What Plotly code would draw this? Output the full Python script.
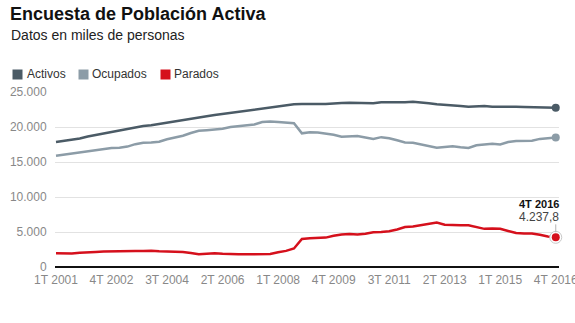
import plotly.graph_objects as go

# ---------------- data (miles de personas) ----------------
years = list(range(2001, 2017))
quarters = [f"{q}T {y}" for y in years for q in (1, 2, 3, 4)]

activos = [
    17860, 18000, 18150, 18350, 18650, 18900, 19150, 19300,
    19500, 19700, 20000, 20150, 20250, 20450, 20650, 20800,
    21000, 21200, 21350, 21550, 21700, 21850, 22000, 22150,
    22300, 22450, 22650, 22800, 22950, 23150, 23250, 23300,
    23330, 23300, 23280, 23300, 23420, 23450, 23420, 23380,
    23400, 23550, 23520, 23500, 23550, 23600, 23520, 23400,
    23250, 23200, 23100, 23000, 22900, 22950, 23000, 22900,
    22900, 23000, 22900, 22850, 22820, 22850, 22800, 22745.9,
]
ocupados = [
    15900, 16050, 16250, 16400, 16500, 16750, 16900, 17000,
    17050, 17200, 17550, 17750, 17800, 17900, 18250, 18500,
    18750, 19150, 19450, 19550, 19600, 19750, 20000, 20150,
    20250, 20350, 20700, 20800, 20700, 20650, 20550, 19100,
    19250, 19200, 19100, 18900, 18600, 18650, 18700, 18500,
    18300, 18550, 18400, 18100, 17800, 17750, 17500, 17200,
    17050, 17150, 17250, 17100, 17000, 17400, 17500, 17600,
    17500, 17850, 18000, 18050, 18050, 18300, 18400, 18508.1,
]
parados = [
    1960, 1900, 1920, 2050, 2150, 2150, 2200, 2250,
    2300, 2250, 2300, 2300, 2330, 2250, 2220, 2200,
    2150, 2000, 1820, 1880, 1950, 1880, 1820, 1810,
    1830, 1860, 1810, 1850, 2100, 2300, 2650, 4000,
    4100, 4150, 4200, 4450, 4650, 4700, 4650, 4750,
    4950, 5000, 5100, 5350, 5700, 5800, 5950, 6150,
    6350, 6050, 5950, 5950, 5950, 5650, 5450, 5500,
    5450, 5150, 4850, 4800, 4800, 4600, 4350, 4237.8,
]

series_names = ["Activos", "Ocupados", "Parados"]
series_values = [activos, ocupados, parados]
series_colors = ["#4b5b66", "#8c9ca7", "#d5101c"]

tick_labels = ["1T 2001", "4T 2002", "3T 2004", "2T 2006", "1T 2008",
               "4T 2009", "3T 2011", "2T 2013", "1T 2015", "4T 2016"]
y_ticks = [0, 5000, 10000, 15000, 20000, 25000]

title = "Encuesta de Población Activa"
subtitle = "Datos en miles de personas"

FONT = "Liberation Sans, Arial, Helvetica, sans-serif"

# ---------------- layout geometry ----------------
W, H = 575, 323
ML, MR, MT, MB = 55, 16, 92, 56
PW, PH = W - ML - MR, H - MT - MB


def px(xp):
    return (xp - ML) / PW


def py(yp):
    return (H - MB - yp) / PH


fig = go.Figure()

for name, vals, col in zip(series_names, series_values, series_colors):
    fig.add_trace(go.Scatter(
        x=quarters, y=vals, mode="lines", name=name,
        line=dict(color=col, width=2.5), showlegend=False,
        hoverinfo="skip", cliponaxis=False,
    ))

# end markers
for name, vals, col in zip(series_names, series_values, series_colors):
    if name == "Parados":
        fig.add_trace(go.Scatter(
            x=[quarters[-1]], y=[vals[-1]], mode="markers", showlegend=False,
            marker=dict(size=12, color="white", line=dict(color="#c8c8c8", width=1)),
            hoverinfo="skip", cliponaxis=False,
        ))
    fig.add_trace(go.Scatter(
        x=[quarters[-1]], y=[vals[-1]], mode="markers", showlegend=False,
        marker=dict(size=8, color=col), hoverinfo="skip", cliponaxis=False,
    ))

last_q = quarters[-1]
last_val = parados[-1]
last_txt = f"{last_val:,.1f}".replace(",", "X").replace(".", ",").replace("X", ".")

annotations = [
    dict(text=f"<b>{title}</b>", x=px(8), y=py(13.6), xref="paper", yref="paper",
         xanchor="left", yanchor="middle", showarrow=False,
         font=dict(family=FONT, size=18, color="#111")),
    dict(text=subtitle, x=px(9), y=py(35.5), xref="paper", yref="paper",
         xanchor="left", yanchor="middle", showarrow=False,
         font=dict(family=FONT, size=14, color="#222")),
    # connector tick above the last point
    dict(text=" ", x=last_q, y=last_val, xref="x", yref="y",
         showarrow=True, arrowhead=0, arrowwidth=1, arrowcolor="#b5b5b5",
         ax=0, ay=-14, standoff=5, borderpad=0,
         font=dict(family=FONT, size=1, color="#ffffff")),
    dict(text=last_txt, x=last_q, y=last_val, xref="x", yref="y",
         xanchor="right", yanchor="middle", showarrow=False,
         xshift=4, yshift=20, borderpad=0,
         font=dict(family=FONT, size=12, color="#444")),
    dict(text=f"<b>{last_q}</b>", x=last_q, y=last_val, xref="x", yref="y",
         xanchor="right", yanchor="middle", showarrow=False,
         xshift=4, yshift=33.5, borderpad=0,
         font=dict(family=FONT, size=11, color="#111")),
]

# legend (swatches + labels)
legend_sq_x = [12.5, 78.5, 160.5]
legend_tx_x = [25, 90, 172]
shapes = []
for name, col, sx, tx in zip(series_names, series_colors, legend_sq_x, legend_tx_x):
    shapes.append(dict(type="rect", xref="paper", yref="paper",
                       x0=px(sx), x1=px(sx + 10), y0=py(79.5), y1=py(69.5),
                       fillcolor=col, line=dict(width=0)))
    annotations.append(dict(text=name, x=px(tx), y=py(74.3), xref="paper", yref="paper",
                            xanchor="left", yanchor="middle", showarrow=False,
                            font=dict(family=FONT, size=12, color="#333")))

fig.update_layout(
    width=W, height=H,
    margin=dict(l=ML, r=MR, t=MT, b=MB, pad=0, autoexpand=False),
    paper_bgcolor="white", plot_bgcolor="white",
    separators=",.",
    font=dict(family=FONT, size=12, color="#888"),
    showlegend=False,
    annotations=annotations,
    shapes=shapes,
    xaxis=dict(
        type="category", range=[-0.126, 63.41], automargin=False,
        tickmode="array", tickvals=tick_labels, ticktext=tick_labels,
        showgrid=False, zeroline=False, showline=False,
        ticks="", ticklabelstandoff=4,
        tickfont=dict(family=FONT, size=12, color="#888"),
        fixedrange=True,
    ),
    yaxis=dict(
        range=[0, 25000], tickvals=y_ticks, tickformat=",.0f", automargin=False,
        showgrid=True, gridcolor="#e2e2e2", gridwidth=1,
        zeroline=True, zerolinecolor="#111", zerolinewidth=2,
        showline=False, ticks="outside", ticklen=5, tickcolor="rgba(0,0,0,0)",
        tickfont=dict(family=FONT, size=12, color="#888"),
        fixedrange=True,
    ),
)

fig.write_html("out.html", config={"displayModeBar": False})
